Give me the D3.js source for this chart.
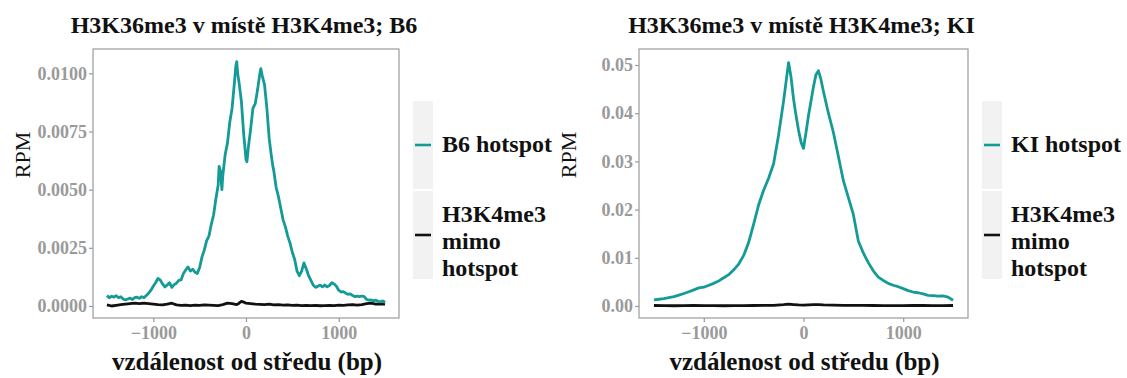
<!DOCTYPE html>
<html>
<head>
<meta charset="utf-8">
<script src="https://cdn.jsdelivr.net/npm/d3@7.9.0/dist/d3.min.js"></script>
<style>
  body { margin: 0; background: #fff; }
  svg { display: block; font-family: "Liberation Serif", "Times New Roman", serif; }
</style>
</head>
<body>
<div id="chart"></div>
<script>
// ---- data ----
const b6HotBp = [-1500,-1475,-1450,-1425,-1400,-1375,-1350,-1325,-1300,-1275,-1250,-1225,-1200,-1175,-1150,-1125,-1100,-1075,-1050,-1025,-1000,-975,-950,-925,-900,-875,-850,-825,-800,-775,-750,-725,-700,-675,-650,-625,-600,-575,-550,-525,-500,-475,-450,-425,-400,-375,-350,-325,-300,-290,-275,-260,-250,-225,-200,-175,-150,-125,-110,-100,-90,-75,-50,-25,0,10,25,50,75,100,125,150,160,175,200,225,250,275,290,300,325,350,375,400,425,450,475,500,525,550,575,600,625,650,675,700,725,750,775,800,825,850,875,900,925,950,975,1000,1025,1050,1075,1100,1125,1150,1175,1200,1225,1250,1275,1300,1325,1350,1375,1400,1425,1450,1475,1500];
const b6Hot = [0.00045,0.00035,0.00042,0.00038,0.00044,0.00036,0.00040,0.00030,0.00026,0.00030,0.00034,0.00028,0.00036,0.00038,0.00033,0.00040,0.00036,0.00045,0.00055,0.00068,0.00085,0.00100,0.00118,0.00112,0.00095,0.00082,0.00090,0.00100,0.00080,0.00092,0.00098,0.00110,0.00112,0.00140,0.00155,0.00168,0.00150,0.00158,0.00145,0.00140,0.00165,0.00210,0.00240,0.00280,0.00300,0.00350,0.00390,0.00460,0.00520,0.00600,0.00580,0.00500,0.00560,0.00650,0.00700,0.00790,0.00850,0.00960,0.01030,0.01050,0.01000,0.00960,0.00880,0.00740,0.00630,0.00620,0.00680,0.00760,0.00850,0.00870,0.00930,0.01000,0.01020,0.00990,0.00950,0.00850,0.00720,0.00640,0.00600,0.00580,0.00510,0.00470,0.00420,0.00370,0.00340,0.00300,0.00270,0.00230,0.00200,0.00150,0.00130,0.00150,0.00185,0.00160,0.00130,0.00110,0.00090,0.00080,0.00085,0.00090,0.00082,0.00090,0.00082,0.00088,0.00100,0.00095,0.00085,0.00068,0.00060,0.00062,0.00055,0.00050,0.00052,0.00045,0.00040,0.00042,0.00040,0.00043,0.00040,0.00028,0.00025,0.00026,0.00022,0.00025,0.00020,0.00018,0.00022,0.00015];

const b6OtherBp = [-1500,-1450,-1400,-1350,-1300,-1250,-1200,-1150,-1100,-1050,-1000,-950,-900,-850,-800,-750,-700,-650,-600,-550,-500,-450,-400,-350,-300,-250,-200,-150,-100,-75,-50,-25,0,50,100,150,200,250,300,350,400,450,500,550,600,650,700,750,800,850,900,950,1000,1050,1100,1150,1200,1250,1300,1350,1400,1450,1500];
const b6Other = [0.00005,0.00000,0.00003,0.00006,0.00008,0.00010,0.00012,0.00010,0.00012,0.00010,0.00008,0.00006,0.00005,0.00008,0.00012,0.00005,0.00003,0.00004,0.00002,0.00004,0.00003,0.00005,0.00004,0.00003,0.00002,0.00006,0.00012,0.00010,0.00006,0.00012,0.00020,0.00017,0.00012,0.00010,0.00008,0.00007,0.00006,0.00008,0.00005,0.00006,0.00004,0.00005,0.00003,0.00004,0.00002,0.00003,0.00002,0.00003,0.00001,0.00002,0.00003,0.00002,0.00004,0.00003,0.00005,0.00006,0.00004,0.00006,0.00010,0.00012,0.00008,0.00009,0.00008];

const kiHotBp = [-1500,-1450,-1400,-1350,-1300,-1250,-1200,-1150,-1100,-1050,-1000,-950,-900,-850,-800,-750,-700,-650,-600,-550,-500,-450,-400,-350,-300,-250,-200,-175,-150,-125,-100,-75,-50,-25,0,25,50,75,100,125,150,175,200,250,300,350,400,450,500,550,600,650,700,750,800,850,900,950,1000,1050,1100,1150,1200,1250,1300,1350,1400,1450,1500];
const kiHot = [0.00125,0.00140,0.00155,0.00175,0.00195,0.00225,0.00260,0.00295,0.00335,0.00375,0.00390,0.00430,0.00470,0.00520,0.00585,0.00650,0.00750,0.00870,0.01050,0.01320,0.01700,0.02100,0.02400,0.02650,0.02950,0.03550,0.04250,0.04650,0.05050,0.04750,0.04300,0.03950,0.03650,0.03400,0.03270,0.03600,0.03950,0.04250,0.04550,0.04800,0.04880,0.04700,0.04450,0.04000,0.03600,0.03100,0.02600,0.02250,0.01900,0.01350,0.01100,0.00900,0.00730,0.00600,0.00530,0.00470,0.00430,0.00400,0.00360,0.00320,0.00290,0.00275,0.00250,0.00220,0.00215,0.00205,0.00210,0.00185,0.00120];

const kiOtherBp = [-1500,-1400,-1300,-1200,-1100,-1000,-900,-800,-700,-600,-500,-400,-300,-200,-150,-100,-50,0,50,100,150,200,300,400,500,600,700,800,900,1000,1100,1200,1300,1400,1500];
const kiOther = [0.00010,0.00008,0.00005,0.00008,0.00010,0.00008,0.00006,0.00005,0.00006,0.00008,0.00010,0.00012,0.00015,0.00030,0.00040,0.00030,0.00022,0.00020,0.00025,0.00030,0.00028,0.00022,0.00018,0.00015,0.00012,0.00012,0.00010,0.00008,0.00009,0.00008,0.00010,0.00010,0.00008,0.00009,0.00010];

const xTicks = [-1000, 0, 1000];
const b6Ticks = [0, 0.0025, 0.005, 0.0075, 0.01];
const kiTicks = [0, 0.01, 0.02, 0.03, 0.04, 0.05];

const teal = '#149b97';

const width = 1127;
const height = 378;

const svg = d3.select('#chart')
  .append('svg')
  .attr('width', width)
  .attr('height', height);

function drawPanel(opt) {
  const g = svg.append('g');
  const x = d3.scaleLinear().domain([-1650, 1650]).range([opt.left, opt.right]);
  const y = d3.scaleLinear().domain(opt.yDomain).range([opt.bottom, opt.top]);
  const cx = (opt.left + opt.right) / 2;

  // title
  g.append('text')
    .attr('x', cx - 2)
    .attr('y', 33)
    .attr('text-anchor', 'middle')
    .attr('font-size', 24)
    .attr('font-weight', 'bold')
    .attr('fill', '#111')
    .text(opt.title);

  // panel border
  g.append('rect')
    .attr('x', opt.left)
    .attr('y', opt.top)
    .attr('width', opt.right - opt.left)
    .attr('height', opt.bottom - opt.top)
    .attr('fill', 'none')
    .attr('stroke', '#9a9a9a')
    .attr('stroke-width', 1.2);

  // axes
  const yAxis = d3.axisLeft(y).tickValues(opt.yTicks).tickFormat(d3.format(opt.yFmt)).tickSize(4).tickPadding(2);
  const ya = g.append('g').attr('transform', `translate(${opt.left},0)`).call(yAxis);
  const xAxis = d3.axisBottom(x).tickValues(xTicks).tickFormat((d) => d < 0 ? '\u2212' + Math.abs(d) : d).tickSize(4).tickPadding(2);
  const xa = g.append('g').attr('transform', `translate(0,${opt.bottom})`).call(xAxis);
  [ya, xa].forEach((a) => {
    a.select('.domain').remove();
    a.selectAll('line').attr('stroke', '#9a9a9a').attr('stroke-width', 1.2);
    a.selectAll('text')
      .attr('fill', '#9a9a9a')
      .attr('font-size', 18)
      .attr('font-weight', 'bold')
      .attr('font-family', '"Liberation Serif", serif');
  });
  xa.selectAll('text').attr('dy', '0.85em');

  // lines
  const line = d3.line().x((d) => x(d[0])).y((d) => y(d[1]));
  g.append('path')
    .datum(d3.zip(opt.otherBp, opt.other))
    .attr('fill', 'none')
    .attr('stroke', '#111')
    .attr('stroke-width', 2.8)
    .attr('stroke-linejoin', 'round')
    .attr('d', line);
  g.append('path')
    .datum(d3.zip(opt.hotBp, opt.hot))
    .attr('fill', 'none')
    .attr('stroke', teal)
    .attr('stroke-width', 2.8)
    .attr('stroke-linejoin', 'round')
    .attr('d', line);

  // axis titles
  g.append('text')
    .attr('transform', `translate(${opt.left - 63},155) rotate(-90)`)
    .attr('text-anchor', 'middle')
    .attr('font-size', 22)
    .attr('fill', '#111')
    .text('RPM');
  g.append('text')
    .attr('x', cx + 1)
    .attr('y', 370)
    .attr('text-anchor', 'middle')
    .attr('font-size', 25)
    .attr('font-weight', 'bold')
    .attr('fill', '#111')
    .text('vzdálenost od středu (bp)');

  // legend
  const lx = opt.legendX;
  const lg = g.append('g');
  lg.append('rect').attr('x', lx).attr('y', 101).attr('width', 20).attr('height', 88).attr('fill', '#f2f2f2');
  lg.append('rect').attr('x', lx).attr('y', 191).attr('width', 20).attr('height', 88).attr('fill', '#f2f2f2');
  lg.append('line').attr('x1', lx + 2).attr('x2', lx + 18).attr('y1', 145).attr('y2', 145)
    .attr('stroke', teal).attr('stroke-width', 2.6);
  lg.append('line').attr('x1', lx + 2).attr('x2', lx + 18).attr('y1', 235).attr('y2', 235)
    .attr('stroke', '#111').attr('stroke-width', 2.6);
  const labels = [[opt.hotLabel, 152], ['H3K4me3', 222], ['mimo', 249], ['hotspot', 276]];
  labels.forEach(([t, yy]) => {
    lg.append('text')
      .attr('x', lx + 29)
      .attr('y', yy)
      .attr('font-size', 24)
      .attr('font-weight', 'bold')
      .attr('fill', '#111')
      .text(t);
  });
}

drawPanel({
  left: 93, right: 399, top: 49, bottom: 318,
  yDomain: [-0.000516, 0.011044],
  yTicks: b6Ticks, yFmt: '.4f',
  title: 'H3K36me3 v místě H3K4me3; B6',
  hotBp: b6HotBp, hot: b6Hot,
  otherBp: b6OtherBp, other: b6Other,
  hotLabel: 'B6 hotspot',
  legendX: 413,
});

drawPanel({
  left: 639, right: 968, top: 49, bottom: 318,
  yDomain: [-0.00249, 0.05332],
  yTicks: kiTicks, yFmt: '.2f',
  title: 'H3K36me3 v místě H3K4me3; KI',
  hotBp: kiHotBp, hot: kiHot,
  otherBp: kiOtherBp, other: kiOther,
  hotLabel: 'KI hotspot',
  legendX: 982,
});
</script>
</body>
</html>
